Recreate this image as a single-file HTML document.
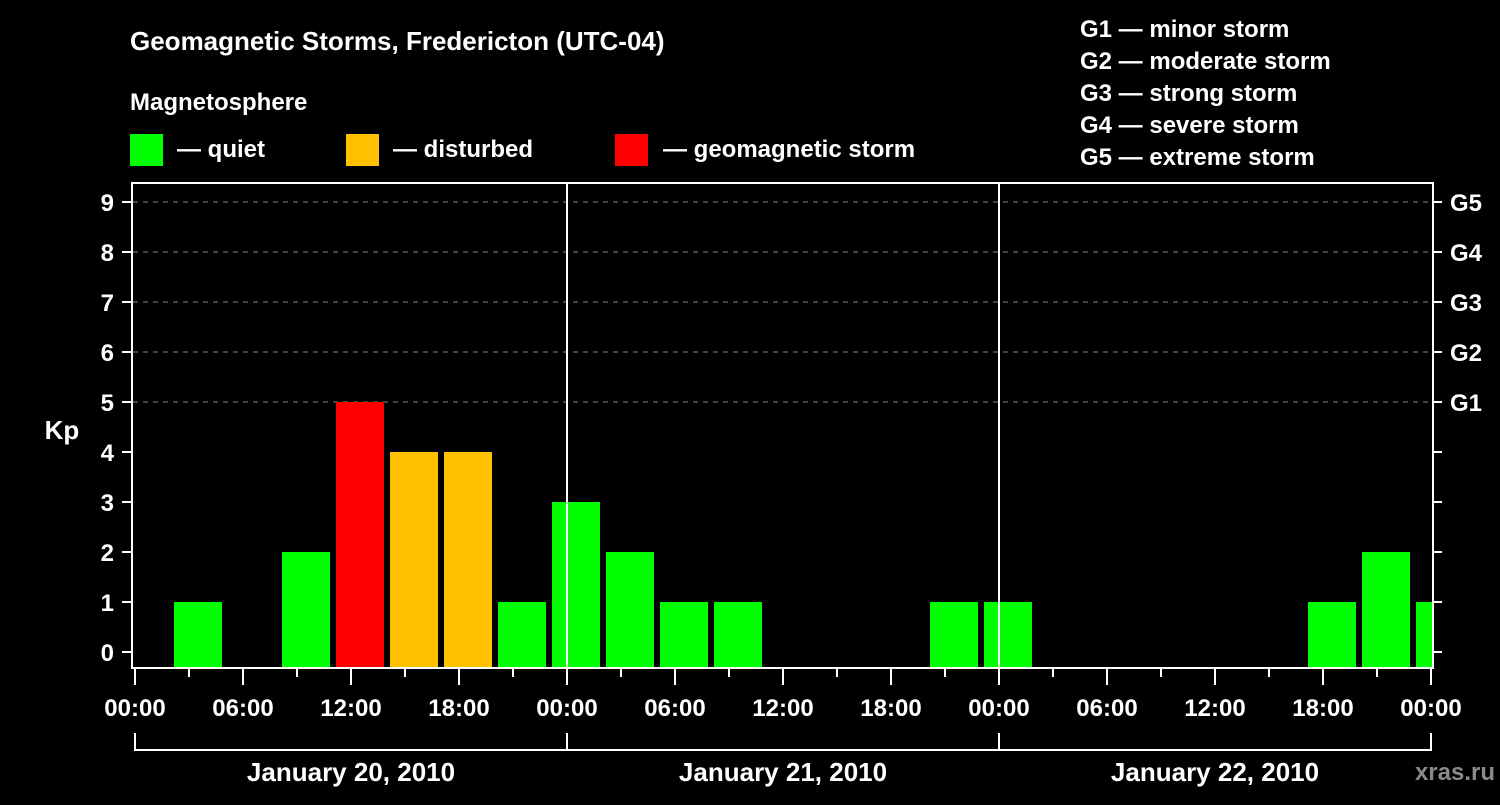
<!DOCTYPE html>
<html><head><meta charset="utf-8"><style>
html,body{margin:0;background:#000;}
svg text{font-family:"Liberation Sans",sans-serif;font-weight:bold;fill:#fff;}
</style></head><body>
<svg width="1500" height="800" viewBox="0 0 1500 800">
<text x="130" y="50" font-size="26">Geomagnetic Storms, Fredericton (UTC-04)</text>
<text x="130" y="110" font-size="24">Magnetosphere</text>
<rect x="130" y="134" width="33" height="32" fill="#00ff00"/>
<text x="177" y="157" font-size="24">— quiet</text>
<rect x="346" y="134" width="33" height="32" fill="#ffc000"/>
<text x="393" y="157" font-size="24">— disturbed</text>
<rect x="615" y="134" width="33" height="32" fill="#ff0000"/>
<text x="663" y="157" font-size="24">— geomagnetic storm</text>
<g font-size="24">
<text x="1080" y="37">G1 — minor storm</text>
<text x="1080" y="69">G2 — moderate storm</text>
<text x="1080" y="101">G3 — strong storm</text>
<text x="1080" y="133">G4 — severe storm</text>
<text x="1080" y="165">G5 — extreme storm</text>
</g>
<g id="grid"></g>
<g id="bars"></g>
<rect x="132" y="183" width="1301" height="485" fill="none" stroke="#fff" stroke-width="2"/>
<line x1="567" y1="183" x2="567" y2="668" stroke="#fff" stroke-width="2"/>
<line x1="999" y1="183" x2="999" y2="668" stroke="#fff" stroke-width="2"/>
<g id="axes"></g>
<text x="62" y="439" font-size="26" text-anchor="middle">Kp</text>
<text x="1495" y="780" font-size="24" text-anchor="end" fill="#888" style="fill:#8a8a8a">xras.ru</text>
</svg>
<script>
const kpValues=[0,0,1,0,2,5,4,4,1,3,2,1,1,0,0,0,1,1,0,0,0,0,0,1,2,1];
const yTicks=[0,1,2,3,4,5,6,7,8,9];
const gLabels=["G1","G2","G3","G4","G5"];
const timeLabels=["00:00","06:00","12:00","18:00","00:00","06:00","12:00","18:00","00:00","06:00","12:00","18:00","00:00"];
const dayLabels=["January 20, 2010","January 21, 2010","January 22, 2010"];
const NS="http://www.w3.org/2000/svg";
const X0=135,HOUR=18,Y0=652,UNIT=50,BOTTOM=667,RIGHT=1432;
const xs=h=>X0+h*HOUR, ys=v=>Y0-v*UNIT;
function mk(t,a,p){const e=document.createElementNS(NS,t);for(const k in a)e.setAttribute(k,a[k]);p.appendChild(e);return e;}
const grid=document.getElementById('grid'),bars=document.getElementById('bars'),axes=document.getElementById('axes');
yTicks.forEach(v=>{
 if(v>=5){const l=mk('line',{x1:133,x2:RIGHT,y1:ys(v),y2:ys(v),stroke:'#888','stroke-dasharray':'5,5'},grid);
 
 }
 const t=mk('line',{x1:122,x2:132,y1:ys(v),y2:ys(v),stroke:'#fff','stroke-width':2},axes);
 
 
 const tx=mk('text',{x:114,y:ys(v)+9,'font-size':24,'text-anchor':'end'},axes);tx.textContent=v;
 
 
 const rt=mk('line',{x1:1433,x2:1442,y1:ys(v),y2:ys(v),stroke:'#fff','stroke-width':2},axes);
 
 
});
gLabels.forEach((g,i)=>{const tx=mk('text',{x:1450,y:ys(i+5)+9,'font-size':24},axes);tx.textContent=g;
 
 });
kpValues.forEach((v,k)=>{
 const h0=-4+3*k;const x1=Math.max(xs(h0)+3,133),x2=Math.min(xs(h0)+51,RIGHT);
 if(v<=0||x2<=x1)return;
 const c=v>=5?'#ff0000':(v>=4?'#ffc000':'#00ff00');
 const r=mk('rect',{x:x1,y:ys(v),width:x2-x1,height:BOTTOM-ys(v),fill:c},bars);
 
 
});
for(let i=0;i<=24;i++){const x=xs(i*3);const major=i%2==0;
 const t=mk('line',{x1:x,x2:x,y1:669,y2:major?685:677,stroke:'#fff','stroke-width':2},axes);
 
 }
timeLabels.forEach((s,i)=>{const tx=mk('text',{x:xs(i*6),y:716,'font-size':24,'text-anchor':'middle'},axes);tx.textContent=s;
 
 });
const br=mk('path',{d:`M${xs(0)} 733V750H${xs(72)}V733M${xs(24)} 750V733M${xs(48)} 750V733`,stroke:'#fff','stroke-width':2,fill:'none'},axes);


dayLabels.forEach((s,i)=>{const tx=mk('text',{x:xs(i*24+12),y:781,'font-size':26,'text-anchor':'middle'},axes);tx.textContent=s;
 
 });
</script>
</body></html>
